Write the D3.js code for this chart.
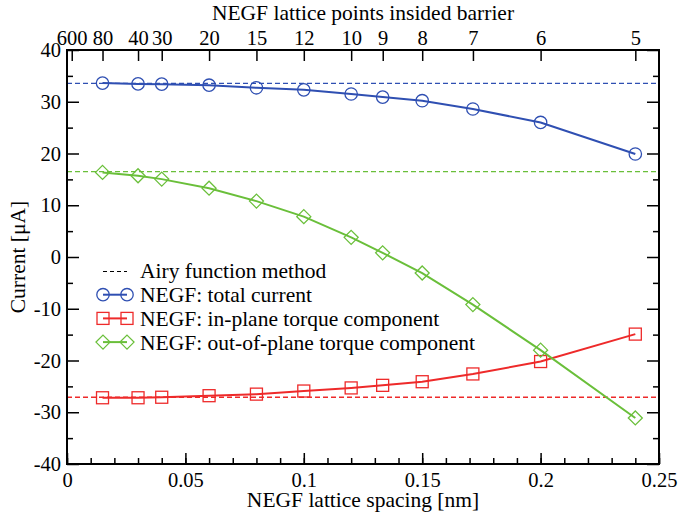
<!DOCTYPE html>
<html>
<head>
<meta charset="utf-8">
<script src="https://cdn.jsdelivr.net/npm/d3@7"></script>
</head>
<body style="margin:0">
<script>
// lattice points inside the barrier, and the matching spacing (1.2 nm / N)
const spacing = [0.015, 0.03, 0.04, 0.06, 0.08, 0.1, 0.12, 0.1333, 0.15, 0.1714, 0.2, 0.24];

const totalCurrent = [33.6, 33.45, 33.4, 33.2, 32.7, 32.3, 31.5, 30.9, 30.2, 28.6, 26.0, 19.9];
const inPlane = [-27.2, -27.2, -27.1, -26.8, -26.5, -25.9, -25.3, -24.8, -24.1, -22.6, -20.2, -14.9];
const outOfPlane = [16.35, 15.7, 15.05, 13.3, 10.8, 7.8, 3.8, 0.8, -3.1, -9.2, -18.0, -31.1];

// Airy function reference values
const airyValues = [33.55, 16.5, -27.1];

const topTicks = [600, 80, 40, 30, 20, 15, 12, 10, 9, 8, 7, 6, 5];
const xTicks = [0, 0.05, 0.1, 0.15, 0.2, 0.25];
const yTicks = [-40, -30, -20, -10, 0, 10, 20, 30, 40];

const legendLabels = ["Airy function method", "NEGF: total current",
  "NEGF: in-plane torque component", "NEGF: out-of-plane torque component"];

const blue = "#2f4fb2", red = "#ee2a2a", green = "#6abf3a";
const airyColors = [blue, green, red];
const FONT = "Liberation Serif";

const W = 678, H = 519;
const margin = {top: 50, right: 19, bottom: 55, left: 67};
const width = W - margin.left - margin.right;
const height = H - margin.top - margin.bottom;

const svg = d3.select("body").append("svg")
  .attr("width", W).attr("height", H)
  .attr("font-family", FONT);
const g = svg.append("g").attr("transform", `translate(${margin.left},${margin.top})`);

const x = d3.scaleLinear().domain([0, 0.25]).range([0, width]);
const y = d3.scaleLinear().domain([-40, 40]).range([height, 0]);

function styleAxis(sel) {
  sel.attr("font-family", FONT).attr("font-size", 20.5);
  sel.select(".domain").remove();
  sel.selectAll(".tick line").attr("stroke", "#000").attr("stroke-width", 1.5);
  sel.selectAll(".tick text").attr("fill", "#000");
}

// minor ticks
g.append("g").attr("transform", `translate(0,${height})`)
  .call(d3.axisBottom(x).tickValues(d3.range(0, 0.2501, 0.01)).tickSize(-6).tickFormat(""))
  .call(styleAxis);
g.append("g")
  .call(d3.axisLeft(y).tickValues(d3.range(-35, 40, 10)).tickSize(-6).tickFormat(""))
  .call(styleAxis);
g.append("g").attr("transform", `translate(${width},0)`)
  .call(d3.axisRight(y).tickValues(d3.range(-35, 40, 10)).tickSize(-6).tickFormat(""))
  .call(styleAxis);

// major ticks
g.append("g").attr("transform", `translate(0,${height})`)
  .call(d3.axisBottom(x).tickValues(xTicks).tickSize(-11).tickPadding(8).tickFormat(d => String(d)))
  .call(styleAxis);

g.append("g")
  .call(d3.axisLeft(y).tickValues(yTicks).tickSize(-12).tickPadding(6).tickFormat(d => String(d)))
  .call(styleAxis);

g.append("g").attr("transform", `translate(${width},0)`)
  .call(d3.axisRight(y).tickValues(yTicks).tickSize(-12).tickFormat(""))
  .call(styleAxis);

g.append("g")
  .call(d3.axisTop(x).tickValues(topTicks.map(n => 1.2 / n)).tickSize(-11).tickPadding(5)
    .tickFormat((d, i) => topTicks[i]))
  .call(styleAxis);

// Airy reference lines
g.selectAll(".airy").data(airyValues).enter().append("line")
  .attr("class", "airy")
  .attr("x1", 0).attr("x2", width)
  .attr("y1", d => y(d)).attr("y2", d => y(d))
  .attr("stroke", (d, i) => airyColors[i])
  .attr("stroke-width", 1.3)
  .attr("stroke-dasharray", "5,3");

const line = d3.line().x(d => x(d[0])).y(d => y(d[1]));

function marker(sel, shape, color) {
  if (shape === "circle") {
    sel.append("circle").attr("r", 6.2);
  } else if (shape === "square") {
    sel.append("rect").attr("x", -6).attr("y", -6).attr("width", 12).attr("height", 12);
  } else {
    sel.append("path").attr("d", "M0,-7L7,0L0,7L-7,0Z");
  }
  sel.selectAll("circle,rect,path")
    .attr("fill", "none").attr("stroke", color).attr("stroke-width", 1.3);
}

const series = [
  {vals: totalCurrent, color: blue, shape: "circle"},
  {vals: inPlane, color: red, shape: "square"},
  {vals: outOfPlane, color: green, shape: "diamond"}
];

series.forEach(s => {
  const pts = spacing.map((v, i) => [v, s.vals[i]]);
  g.append("path").datum(pts)
    .attr("d", line)
    .attr("fill", "none").attr("stroke", s.color).attr("stroke-width", 2);
  g.selectAll(null).data(pts).enter().append("g")
    .attr("transform", d => `translate(${x(d[0])},${y(d[1])})`)
    .each(function () { marker(d3.select(this), s.shape, s.color); });
});

// frame
g.append("rect").attr("width", width).attr("height", height)
  .attr("fill", "none").attr("stroke", "#000").attr("stroke-width", 2);

// legend
const legend = g.append("g")
  .attr("transform", `translate(${103 - margin.left},${271 - margin.top})`)
  .attr("font-family", FONT).attr("font-size", 21.5);
const rowH = 23.7;
legendLabels.forEach((lab, i) => {
  const row = legend.append("g").attr("transform", `translate(0,${i * rowH})`);
  if (i === 0) {
    row.append("line").attr("x1", 0).attr("x2", 24).attr("y1", 0.5).attr("y2", 0.5)
      .attr("stroke", "#000").attr("stroke-width", 1).attr("stroke-dasharray", "4,3");
  } else {
    const s = series[i - 1];
    row.append("line").attr("x1", 0).attr("x2", 24).attr("y1", 0).attr("y2", 0)
      .attr("stroke", s.color).attr("stroke-width", 2);
    [0, 24].forEach(px => {
      marker(row.append("g").attr("transform", `translate(${px},0)`), s.shape, s.color);
    });
  }
  row.append("text").attr("x", 37).attr("y", 7.4).text(lab);
});

// titles
const titles = svg.append("g").attr("font-family", FONT).attr("font-size", 21.5)
  .attr("text-anchor", "middle");
titles.append("text").attr("x", margin.left + width / 2).attr("y", 19.5)
  .text("NEGF lattice points insided barrier");
titles.append("text").attr("x", margin.left + width / 2).attr("y", 506.5)
  .text("NEGF lattice spacing [nm]");
titles.append("text").attr("transform", `translate(25,${margin.top + height / 2}) rotate(-90)`)
  .text("Current [μA]");
</script>
</body>
</html>
